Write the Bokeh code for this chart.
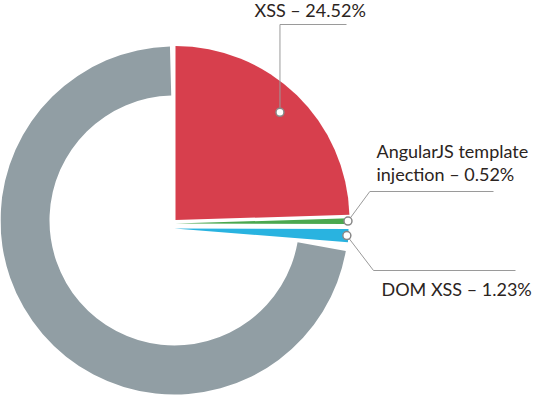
import math
from bokeh.plotting import figure
from bokeh.models import Range1d
from bokeh.core.properties import value
from bokeh.embed import file_html
from bokeh.resources import INLINE

# ---- data ----
labels = ["XSS", "AngularJS template injection", "DOM XSS"]
shares = [24.52, 0.52, 1.23]
other_share = 100 - sum(shares)
label_lines = [["XSS – 24.52%"], ["AngularJS template", "injection – 0.52%"], ["DOM XSS – 1.23%"]]

# ---- style / layout (reference pixel units) ----
colors = ["#d73f4d", "#4aa84f", "#29b3e0"]
grey = "#919ea4"
S = 1.0
W, H = 537, 395
CX, CY = 174.0, 220.0        # pie centre
R, R_IN = 174.0, 125.0
shifts = [(1.0, 0.5), (1.0, -3.0), (0.0, -8.0)]  # slice separation offsets (x, y-up)
grey_pad_low, grey_pad_high = 5.5, 1.5            # degrees
marker_r = [150.0, R - 1.5, R - 1.5]
elbows = [(None, 24.0, 346.0), (369.3, 191.0, 493.0), (373.0, 270.0, 515.0)]
text_pos = [[(254.0, 17.0)], [(376.0, 158.0), (376.0, 181.0)], [(381.0, 296.0)]]
baseline_fix = 7.5
text_color = "#2b2421"
line_color = "#9a9a9a"
font = "Lato"
font_px = 18

p = figure(width=W, height=H, output_backend="svg", toolbar_location=None,
           x_range=Range1d(0, W / S), y_range=Range1d(-H / S, 0),
           min_border=0, outline_line_color=None)
p.axis.visible = False
p.grid.visible = False
p.background_fill_color = "white"
p.border_fill_color = "white"

# grey remainder ring
lowest = 90 - sum(shares) * 3.6
p.annular_wedge(x=CX, y=-CY, inner_radius=R_IN, outer_radius=R,
                start_angle=math.radians(lowest - grey_pad_low),
                end_angle=math.radians(90 + grey_pad_high), direction="clock",
                fill_color=grey, line_color=None)

cum = 0.0
for i, v in enumerate(shares):
    hi = 90 - cum * 3.6
    cum += v
    lo = 90 - cum * 3.6
    cx = CX + shifts[i][0]
    cy = -CY + shifts[i][1]
    p.wedge(x=cx, y=cy, radius=R, start_angle=math.radians(lo), end_angle=math.radians(hi),
            fill_color=colors[i], line_color=None)
    mid = math.radians((lo + hi) / 2)
    mx = cx + marker_r[i] * math.cos(mid)
    my = cy + marker_r[i] * math.sin(mid)
    ex, ey, end_x = elbows[i]
    if ex is None:
        ex = mx
    p.line(x=[mx, ex, end_x], y=[my, -ey, -ey], line_color=line_color, line_width=1)
    p.scatter(x=[mx], y=[my], size=8, marker="circle", fill_color="white",
              line_color="#888888", line_width=1.5)
    for (tx, ty), t in zip(text_pos[i], label_lines[i]):
        p.text(x=[tx], y=[-(ty - baseline_fix)], text=[t], text_font=value(font),
               text_font_size=f"{font_px}px", text_color=text_color,
               text_align="left", text_baseline="alphabetic")

open("out.html", "w").write(file_html(p, INLINE))
